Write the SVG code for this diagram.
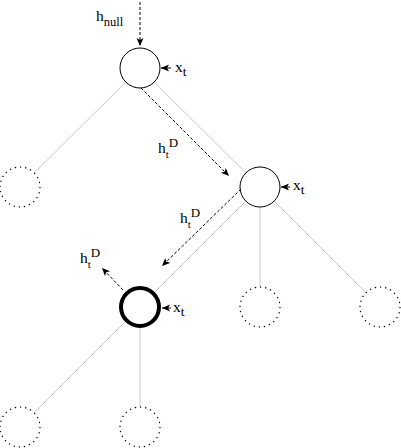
<svg xmlns="http://www.w3.org/2000/svg" width="401" height="448" viewBox="0 0 401 448">
<style>
.edge{stroke:#c8c8c8;stroke-width:1;fill:none}
.node{fill:#fff;stroke:#000;stroke-width:1}
.bold{fill:#fff;stroke:#000;stroke-width:4}
.ghost{fill:#fff;stroke:#000;stroke-width:1.2;stroke-dasharray:1.3 3.9}
.flow{stroke:#000;stroke-width:1;fill:none;stroke-dasharray:3 2;marker-end:url(#ah)}
.inp{stroke:#000;stroke-width:1;fill:none;marker-end:url(#ah)}
text{font-family:"Liberation Serif","Times New Roman",serif;font-size:15.5px;fill:#000}
.sub{font-size:11px}
.subx{font-size:13.5px}
.subn{font-size:12.5px}
.sup{font-size:13px}
</style>
<defs>
<marker id="ah" markerUnits="userSpaceOnUse" markerWidth="10" markerHeight="8" refX="8" refY="3.5" orient="auto">
<path d="M0,0 L8,3.5 L0,7 L2,3.5 z" fill="#000"/>
</marker>
</defs>
<g id="edges">
<line class="edge" x1="140" y1="68" x2="20" y2="187"/>
<line class="edge" x1="140" y1="68" x2="260" y2="187"/>
<line class="edge" x1="260" y1="187" x2="140" y2="307"/>
<line class="edge" x1="260" y1="187" x2="260" y2="307"/>
<line class="edge" x1="260" y1="187" x2="380" y2="307"/>
<line class="edge" x1="140" y1="307" x2="20" y2="427"/>
<line class="edge" x1="140" y1="307" x2="140" y2="427"/>
</g>
<g id="n_root"><circle class="node" cx="140" cy="68" r="20"/></g>
<g id="n_left"><circle class="ghost" cx="20" cy="187" r="20"/></g>
<g id="n_mid"><circle class="node" cx="260" cy="187" r="20"/></g>
<g id="n_bold"><circle class="bold" cx="140" cy="307" r="19"/></g>
<g id="n_c2"><circle class="ghost" cx="260" cy="307" r="20"/></g>
<g id="n_c3"><circle class="ghost" cx="380" cy="307" r="20"/></g>
<g id="n_b1"><circle class="ghost" cx="20" cy="427" r="20"/></g>
<g id="n_b2"><circle class="ghost" cx="140" cy="427" r="20"/></g>
<g id="connectors">
<line class="flow" x1="140" y1="2" x2="140" y2="46"/>
<line class="flow" x1="141" y1="88" x2="229" y2="176"/>
<line class="flow" x1="241" y1="189" x2="162" y2="266"/>
<line class="flow" x1="123" y1="290" x2="102" y2="268"/>
<line class="inp" x1="171" y1="68" x2="161" y2="68"/>
<line class="inp" x1="290" y1="187" x2="281" y2="187"/>
<line class="inp" x1="171" y1="308" x2="162" y2="308"/>
</g>
<g id="labels">
<text x="96" y="21">h<tspan class="subn" dy="5">null</tspan></text>
<text x="175" y="72">x<tspan class="subx" dy="4">t</tspan></text>
<text x="293" y="190">x<tspan class="subx" dy="4">t</tspan></text>
<text x="173" y="312">x<tspan class="subx" dy="4">t</tspan></text>
<text x="158" y="153">h<tspan class="sub" dy="5">t</tspan><tspan class="sup" dy="-11">D</tspan></text>
<text x="180" y="223">h<tspan class="sub" dy="5">t</tspan><tspan class="sup" dy="-11">D</tspan></text>
<text x="80" y="263">h<tspan class="sub" dy="5">t</tspan><tspan class="sup" dy="-11">D</tspan></text>
</g>
</svg>
